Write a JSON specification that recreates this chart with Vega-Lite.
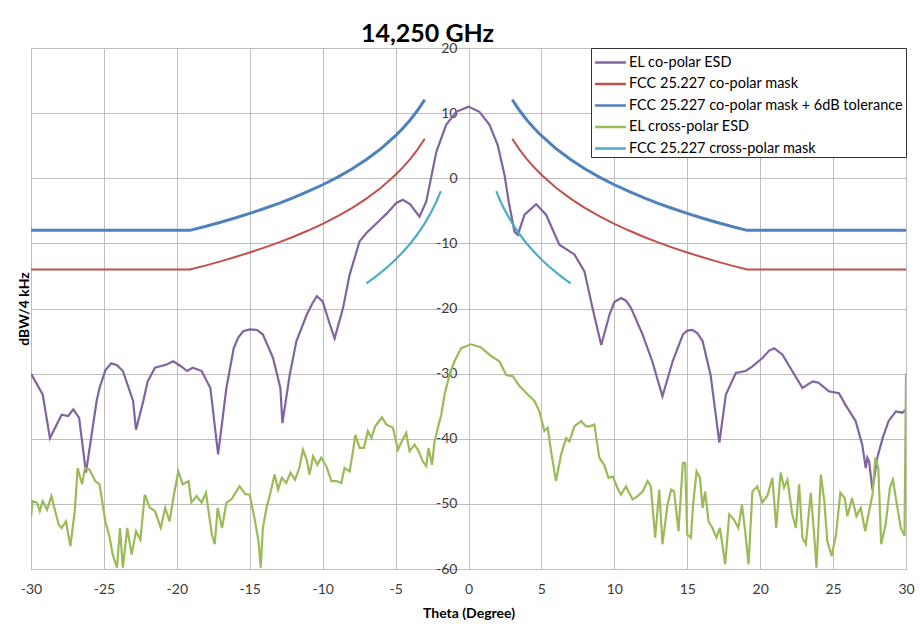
{
  "$schema": "https://vega.github.io/schema/vega-lite/v6.json",
  "width": 875,
  "height": 521,
  "autosize": {"type": "none"},
  "padding": {"left": 31, "top": 48, "right": 14, "bottom": 59},
  "background": "white",
  "title": {"text": "14,250 GHz", "font": "Lato", "fontSize": 25, "fontWeight": "bold", "color": "#000000", "anchor": "middle", "frame": "group", "dx": -41, "offset": -6},
  "datasets": {
    "copolar": [
      {"x": -30, "y": -30}, {"x": -29.2, "y": -33.2}, {"x": -28.7, "y": -39.9}, {"x": -27.9, "y": -36.3}, {"x": -27.45, "y": -36.5}, {"x": -27.1, "y": -35.5}, {"x": -26.7, "y": -36.8}, {"x": -26.23, "y": -45.2}, {"x": -25.5, "y": -34.2}, {"x": -25.3, "y": -32.2}, {"x": -24.9, "y": -29.5}, {"x": -24.5, "y": -28.4}, {"x": -24.1, "y": -28.7}, {"x": -23.7, "y": -29.6}, {"x": -23.0, "y": -34.2}, {"x": -22.8, "y": -38.6}, {"x": -22.3, "y": -34.2}, {"x": -22.0, "y": -31.2}, {"x": -21.5, "y": -29.1}, {"x": -20.7, "y": -28.6}, {"x": -20.25, "y": -28.1}, {"x": -19.7, "y": -28.9}, {"x": -19.3, "y": -29.6}, {"x": -18.9, "y": -29.1}, {"x": -18.3, "y": -29.6}, {"x": -17.7, "y": -32.2}, {"x": -17.17, "y": -42.4}, {"x": -16.6, "y": -32.2}, {"x": -16.1, "y": -26.1}, {"x": -15.8, "y": -24.5}, {"x": -15.45, "y": -23.5}, {"x": -15.0, "y": -23.2}, {"x": -14.5, "y": -23.3}, {"x": -14.1, "y": -24.0}, {"x": -13.4, "y": -27.6}, {"x": -12.9, "y": -32.2}, {"x": -12.76, "y": -37.6}, {"x": -12.26, "y": -30.2}, {"x": -11.8, "y": -25.0}, {"x": -11.1, "y": -21.0}, {"x": -10.7, "y": -19.2}, {"x": -10.4, "y": -18.1}, {"x": -10.0, "y": -18.9}, {"x": -9.5, "y": -22.5}, {"x": -9.18, "y": -24.6}, {"x": -8.6, "y": -19.9}, {"x": -8.15, "y": -14.8}, {"x": -7.47, "y": -9.7}, {"x": -7.0, "y": -8.4}, {"x": -6.3, "y": -6.9}, {"x": -5.6, "y": -5.4}, {"x": -4.95, "y": -3.8}, {"x": -4.5, "y": -3.3}, {"x": -4.0, "y": -4.0}, {"x": -3.36, "y": -5.9}, {"x": -2.9, "y": -3.6}, {"x": -2.2, "y": 4.1}, {"x": -1.53, "y": 8.2}, {"x": -0.84, "y": 10.2}, {"x": 0, "y": 11.0}, {"x": 0.75, "y": 10.2}, {"x": 1.44, "y": 8.2}, {"x": 2.0, "y": 5.1}, {"x": 2.47, "y": 0.5}, {"x": 2.76, "y": -3.6}, {"x": 3.15, "y": -8.2}, {"x": 3.38, "y": -8.7}, {"x": 3.84, "y": -5.6}, {"x": 4.64, "y": -4.0}, {"x": 5.32, "y": -5.6}, {"x": 6.23, "y": -10.2}, {"x": 7.26, "y": -11.7}, {"x": 7.95, "y": -14.3}, {"x": 8.5, "y": -19.9}, {"x": 9.1, "y": -25.6}, {"x": 9.66, "y": -21.0}, {"x": 10.0, "y": -19.0}, {"x": 10.46, "y": -18.4}, {"x": 10.8, "y": -18.8}, {"x": 11.14, "y": -19.9}, {"x": 11.94, "y": -24.0}, {"x": 12.6, "y": -28.1}, {"x": 13.3, "y": -33.5}, {"x": 14.0, "y": -28.1}, {"x": 14.7, "y": -24.0}, {"x": 15.0, "y": -23.4}, {"x": 15.36, "y": -23.3}, {"x": 15.7, "y": -23.8}, {"x": 16.05, "y": -25.0}, {"x": 16.6, "y": -30.2}, {"x": 17.2, "y": -40.6}, {"x": 17.65, "y": -33.2}, {"x": 18.33, "y": -29.9}, {"x": 19.0, "y": -29.6}, {"x": 19.47, "y": -28.9}, {"x": 20.16, "y": -27.6}, {"x": 20.6, "y": -26.5}, {"x": 20.96, "y": -26.1}, {"x": 21.53, "y": -27.1}, {"x": 22.2, "y": -29.6}, {"x": 22.9, "y": -32.2}, {"x": 23.6, "y": -31.2}, {"x": 24.0, "y": -31.4}, {"x": 24.7, "y": -32.7}, {"x": 25.4, "y": -33.0}, {"x": 25.85, "y": -34.8}, {"x": 26.55, "y": -37.3}, {"x": 27.0, "y": -40.9}, {"x": 27.24, "y": -44.5}, {"x": 27.35, "y": -42.9}, {"x": 27.47, "y": -43.5}, {"x": 27.7, "y": -47.8}, {"x": 28.03, "y": -42.9}, {"x": 28.4, "y": -39.9}, {"x": 28.8, "y": -37.3}, {"x": 29.3, "y": -35.8}, {"x": 29.75, "y": -36.0}, {"x": 30, "y": -35.5}
    ],
    "mask": [
      {"g": "L", "x": -30, "y": -14}, {"x": -19.1, "g": "L", "y": -14}, {"g": "L", "x": -18, "y": -13.38}, {"g": "L", "x": -17, "y": -12.76}, {"g": "L", "x": -16, "y": -12.1}, {"g": "L", "x": -15, "y": -11.4}, {"g": "L", "x": -14, "y": -10.65}, {"g": "L", "x": -13, "y": -9.85}, {"g": "L", "x": -12, "y": -8.98}, {"g": "L", "x": -11, "y": -8.03}, {"g": "L", "x": -10, "y": -7.0}, {"g": "L", "x": -9, "y": -5.86}, {"g": "L", "x": -8, "y": -4.58}, {"g": "L", "x": -7, "y": -3.13}, {"g": "L", "x": -6, "y": -1.45}, {"g": "L", "x": -5, "y": 0.53}, {"g": "L", "x": -4.5, "y": 1.67}, {"g": "L", "x": -4, "y": 2.95}, {"g": "L", "x": -3.5, "y": 4.4}, {"g": "L", "x": -3, "y": 6.07},
      {"g": "R", "x": 3, "y": 6.07}, {"g": "R", "x": 3.5, "y": 4.4}, {"g": "R", "x": 4, "y": 2.95}, {"g": "R", "x": 4.5, "y": 1.67}, {"g": "R", "x": 5, "y": 0.53}, {"g": "R", "x": 6, "y": -1.45}, {"g": "R", "x": 7, "y": -3.13}, {"g": "R", "x": 8, "y": -4.58}, {"g": "R", "x": 9, "y": -5.86}, {"g": "R", "x": 10, "y": -7.0}, {"g": "R", "x": 11, "y": -8.03}, {"g": "R", "x": 12, "y": -8.98}, {"g": "R", "x": 13, "y": -9.85}, {"g": "R", "x": 14, "y": -10.65}, {"g": "R", "x": 15, "y": -11.4}, {"g": "R", "x": 16, "y": -12.1}, {"g": "R", "x": 17, "y": -12.76}, {"g": "R", "x": 18, "y": -13.38}, {"g": "R", "x": 19.1, "y": -14}, {"g": "R", "x": 30, "y": -14}
    ],
    "tolerance": [
      {"g": "L", "x": -30, "y": -8}, {"g": "L", "x": -19.1, "y": -8}, {"g": "L", "x": -18, "y": -7.38}, {"g": "L", "x": -17, "y": -6.76}, {"g": "L", "x": -16, "y": -6.1}, {"g": "L", "x": -15, "y": -5.4}, {"g": "L", "x": -14, "y": -4.65}, {"g": "L", "x": -13, "y": -3.85}, {"g": "L", "x": -12, "y": -2.98}, {"g": "L", "x": -11, "y": -2.03}, {"g": "L", "x": -10, "y": -1.0}, {"g": "L", "x": -9, "y": 0.14}, {"g": "L", "x": -8, "y": 1.42}, {"g": "L", "x": -7, "y": 2.87}, {"g": "L", "x": -6, "y": 4.55}, {"g": "L", "x": -5, "y": 6.53}, {"g": "L", "x": -4.5, "y": 7.67}, {"g": "L", "x": -4, "y": 8.95}, {"g": "L", "x": -3.5, "y": 10.4}, {"g": "L", "x": -3, "y": 12.07},
      {"g": "R", "x": 3, "y": 12.07}, {"g": "R", "x": 3.5, "y": 10.4}, {"g": "R", "x": 4, "y": 8.95}, {"g": "R", "x": 4.5, "y": 7.67}, {"g": "R", "x": 5, "y": 6.53}, {"g": "R", "x": 6, "y": 4.55}, {"g": "R", "x": 7, "y": 2.87}, {"g": "R", "x": 8, "y": 1.42}, {"g": "R", "x": 9, "y": 0.14}, {"g": "R", "x": 10, "y": -1.0}, {"g": "R", "x": 11, "y": -2.03}, {"g": "R", "x": 12, "y": -2.98}, {"g": "R", "x": 13, "y": -3.85}, {"g": "R", "x": 14, "y": -4.65}, {"g": "R", "x": 15, "y": -5.4}, {"g": "R", "x": 16, "y": -6.1}, {"g": "R", "x": 17, "y": -6.76}, {"g": "R", "x": 18, "y": -7.38}, {"g": "R", "x": 19.1, "y": -8}, {"g": "R", "x": 30, "y": -8}
    ],
    "crosspolar": [
      {"x": -30, "y": -52.1}, {"x": -29.9, "y": -49.6}, {"x": -29.6, "y": -49.8}, {"x": -29.4, "y": -51.1}, {"x": -29.2, "y": -49.6}, {"x": -28.9, "y": -50.9}, {"x": -28.6, "y": -48.8}, {"x": -28.4, "y": -50.6}, {"x": -28.1, "y": -53.2}, {"x": -27.9, "y": -53.7}, {"x": -27.6, "y": -52.7}, {"x": -27.3, "y": -56.5}, {"x": -27.0, "y": -51.1}, {"x": -26.8, "y": -44.5}, {"x": -26.5, "y": -47.0}, {"x": -26.3, "y": -44.5}, {"x": -26.0, "y": -44.7}, {"x": -25.6, "y": -46.5}, {"x": -25.3, "y": -47.0}, {"x": -24.9, "y": -52.7}, {"x": -24.6, "y": -55.2}, {"x": -24.4, "y": -57.8}, {"x": -24.1, "y": -59.8}, {"x": -23.9, "y": -53.7}, {"x": -23.7, "y": -59.8}, {"x": -23.4, "y": -53.7}, {"x": -23.1, "y": -57.8}, {"x": -22.8, "y": -54.2}, {"x": -22.5, "y": -55.5}, {"x": -22.2, "y": -48.6}, {"x": -21.85, "y": -50.6}, {"x": -21.5, "y": -51.1}, {"x": -21.1, "y": -53.7}, {"x": -20.8, "y": -50.6}, {"x": -20.5, "y": -52.7}, {"x": -20.2, "y": -48.6}, {"x": -19.9, "y": -45.0}, {"x": -19.6, "y": -47.0}, {"x": -19.2, "y": -46.5}, {"x": -19.0, "y": -49.8}, {"x": -18.65, "y": -48.8}, {"x": -18.3, "y": -49.8}, {"x": -18.0, "y": -48.3}, {"x": -17.6, "y": -54.7}, {"x": -17.4, "y": -56.2}, {"x": -17.2, "y": -50.6}, {"x": -16.9, "y": -53.7}, {"x": -16.6, "y": -49.8}, {"x": -16.25, "y": -49.3}, {"x": -15.7, "y": -47.3}, {"x": -15.3, "y": -48.5}, {"x": -15.0, "y": -48.6}, {"x": -14.66, "y": -52.4}, {"x": -14.4, "y": -55.7}, {"x": -14.25, "y": -59.8}, {"x": -14.1, "y": -53.7}, {"x": -13.85, "y": -50.6}, {"x": -13.56, "y": -48.1}, {"x": -13.3, "y": -45.5}, {"x": -13.06, "y": -47.8}, {"x": -12.8, "y": -46.0}, {"x": -12.5, "y": -46.8}, {"x": -12.2, "y": -45.2}, {"x": -11.9, "y": -46.3}, {"x": -11.6, "y": -44.5}, {"x": -11.35, "y": -41.7}, {"x": -11.1, "y": -43.2}, {"x": -10.9, "y": -45.5}, {"x": -10.66, "y": -42.7}, {"x": -10.36, "y": -44.0}, {"x": -10.1, "y": -42.9}, {"x": -9.75, "y": -44.2}, {"x": -9.4, "y": -46.5}, {"x": -9.06, "y": -46.5}, {"x": -8.72, "y": -46.8}, {"x": -8.5, "y": -44.5}, {"x": -8.15, "y": -45.0}, {"x": -7.92, "y": -41.9}, {"x": -7.76, "y": -39.4}, {"x": -7.47, "y": -41.4}, {"x": -7.17, "y": -41.4}, {"x": -6.9, "y": -38.8}, {"x": -6.66, "y": -39.9}, {"x": -6.4, "y": -38.1}, {"x": -5.94, "y": -36.7}, {"x": -5.64, "y": -37.8}, {"x": -5.18, "y": -38.3}, {"x": -4.84, "y": -41.7}, {"x": -4.57, "y": -40.4}, {"x": -4.27, "y": -39.1}, {"x": -4.04, "y": -41.9}, {"x": -3.7, "y": -40.9}, {"x": -3.42, "y": -41.9}, {"x": -3.13, "y": -43.5}, {"x": -2.9, "y": -44.2}, {"x": -2.74, "y": -41.4}, {"x": -2.5, "y": -44.0}, {"x": -2.33, "y": -40.4}, {"x": -2.1, "y": -38.3}, {"x": -1.87, "y": -36.3}, {"x": -1.64, "y": -33.2}, {"x": -1.3, "y": -30.2}, {"x": -0.96, "y": -28.1}, {"x": -0.5, "y": -26.1}, {"x": 0.18, "y": -25.5}, {"x": 0.87, "y": -26.0}, {"x": 1.55, "y": -27.3}, {"x": 2.12, "y": -28.1}, {"x": 2.58, "y": -30.2}, {"x": 3.03, "y": -30.4}, {"x": 3.5, "y": -31.9}, {"x": 4.06, "y": -33.2}, {"x": 4.52, "y": -34.2}, {"x": 4.86, "y": -35.8}, {"x": 5.2, "y": -38.8}, {"x": 5.43, "y": -38.3}, {"x": 5.66, "y": -41.9}, {"x": 6.0, "y": -46.5}, {"x": 6.35, "y": -42.4}, {"x": 6.7, "y": -39.9}, {"x": 6.92, "y": -40.4}, {"x": 7.26, "y": -38.1}, {"x": 7.72, "y": -37.3}, {"x": 8.06, "y": -38.1}, {"x": 8.3, "y": -38.1}, {"x": 8.63, "y": -37.8}, {"x": 8.97, "y": -42.9}, {"x": 9.3, "y": -44.0}, {"x": 9.6, "y": -46.0}, {"x": 9.9, "y": -45.8}, {"x": 10.2, "y": -47.5}, {"x": 10.46, "y": -48.6}, {"x": 10.8, "y": -47.3}, {"x": 10.9, "y": -47.8}, {"x": 11.25, "y": -49.3}, {"x": 11.6, "y": -48.8}, {"x": 11.94, "y": -48.1}, {"x": 12.28, "y": -46.5}, {"x": 12.5, "y": -47.3}, {"x": 12.8, "y": -55.2}, {"x": 13.08, "y": -47.8}, {"x": 13.3, "y": -56.2}, {"x": 13.65, "y": -50.1}, {"x": 13.9, "y": -47.8}, {"x": 14.1, "y": -48.1}, {"x": 14.4, "y": -54.2}, {"x": 14.7, "y": -43.7}, {"x": 14.86, "y": -43.7}, {"x": 15.0, "y": -54.7}, {"x": 15.25, "y": -55.2}, {"x": 15.4, "y": -50.1}, {"x": 15.64, "y": -45.0}, {"x": 15.87, "y": -46.0}, {"x": 16.05, "y": -50.6}, {"x": 16.23, "y": -48.1}, {"x": 16.46, "y": -52.7}, {"x": 16.73, "y": -53.7}, {"x": 17.0, "y": -55.2}, {"x": 17.24, "y": -53.7}, {"x": 17.6, "y": -59.3}, {"x": 17.88, "y": -51.6}, {"x": 18.2, "y": -52.4}, {"x": 18.5, "y": -53.7}, {"x": 18.75, "y": -50.1}, {"x": 18.97, "y": -54.2}, {"x": 19.2, "y": -59.3}, {"x": 19.47, "y": -48.1}, {"x": 19.8, "y": -47.3}, {"x": 20.16, "y": -49.8}, {"x": 20.5, "y": -48.7}, {"x": 20.84, "y": -46.0}, {"x": 21.1, "y": -53.7}, {"x": 21.4, "y": -45.2}, {"x": 21.64, "y": -47.5}, {"x": 21.87, "y": -46.3}, {"x": 22.2, "y": -51.6}, {"x": 22.45, "y": -53.7}, {"x": 22.67, "y": -47.0}, {"x": 22.9, "y": -55.2}, {"x": 23.13, "y": -56.2}, {"x": 23.47, "y": -48.3}, {"x": 23.7, "y": -54.7}, {"x": 23.86, "y": -59.8}, {"x": 24.16, "y": -45.5}, {"x": 24.4, "y": -49.6}, {"x": 24.6, "y": -55.7}, {"x": 24.9, "y": -58.0}, {"x": 25.2, "y": -54.7}, {"x": 25.5, "y": -48.3}, {"x": 25.8, "y": -49.1}, {"x": 25.98, "y": -51.9}, {"x": 26.3, "y": -49.1}, {"x": 26.6, "y": -51.9}, {"x": 26.9, "y": -50.6}, {"x": 27.2, "y": -54.2}, {"x": 27.47, "y": -51.1}, {"x": 27.7, "y": -48.6}, {"x": 27.9, "y": -42.9}, {"x": 28.1, "y": -44.5}, {"x": 28.3, "y": -56.2}, {"x": 28.6, "y": -53.2}, {"x": 28.9, "y": -47.5}, {"x": 29.1, "y": -46.3}, {"x": 29.34, "y": -49.6}, {"x": 29.64, "y": -53.7}, {"x": 29.9, "y": -54.9}, {"x": 30, "y": -30}
    ],
    "xmask": [
      {"g": "L", "x": -7, "y": -16.13}, {"g": "L", "x": -6.5, "y": -15.32}, {"g": "L", "x": -6, "y": -14.45}, {"g": "L", "x": -5.5, "y": -13.51}, {"g": "L", "x": -5, "y": -12.47}, {"g": "L", "x": -4.5, "y": -11.33}, {"g": "L", "x": -4, "y": -10.05}, {"g": "L", "x": -3.5, "y": -8.6}, {"g": "L", "x": -3, "y": -6.93}, {"g": "L", "x": -2.5, "y": -4.95}, {"g": "L", "x": -2.2, "y": -3.56}, {"g": "L", "x": -1.9, "y": -1.97},
      {"g": "R", "x": 1.9, "y": -1.97}, {"g": "R", "x": 2.2, "y": -3.56}, {"g": "R", "x": 2.5, "y": -4.95}, {"g": "R", "x": 3, "y": -6.93}, {"g": "R", "x": 3.5, "y": -8.6}, {"g": "R", "x": 4, "y": -10.05}, {"g": "R", "x": 4.5, "y": -11.33}, {"g": "R", "x": 5, "y": -12.47}, {"g": "R", "x": 5.5, "y": -13.51}, {"g": "R", "x": 6, "y": -14.45}, {"g": "R", "x": 6.5, "y": -15.32}, {"g": "R", "x": 7, "y": -16.13}
    ]
  },
  "encoding": {
    "x": {"field": "x", "type": "quantitative", "scale": {"domain": [-30, 30], "nice": false, "zero": false},
      "axis": {"title": "Theta (Degree)", "values": [-30, -25, -20, -15, -10, -5, 0, 5, 10, 15, 20, 25, 30], "labelExpr": "datum.value + ''", "labelFlush": false, "labelPadding": 13, "titlePadding": 10}},
    "y": {"field": "y", "type": "quantitative", "scale": {"domain": [-60, 20], "nice": false, "zero": false},
      "axis": {"title": "dBW/4 kHz", "values": [-60, -50, -40, -30, -20, -10, 0, 10, 20], "labelExpr": "datum.value + ''", "offset": -438, "labelPadding": 12, "titleX": -438, "labelFlush": false}}
  },
  "layer": [
    {"data": {"name": "copolar"}, "mark": {"type": "line", "strokeWidth": 2.2, "clip": true},
      "encoding": {"color": {"datum": "EL co-polar ESD", "type": "nominal",
        "scale": {"domain": ["EL co-polar ESD", "FCC 25.227 co-polar mask", "FCC 25.227 co-polar mask + 6dB tolerance", "EL cross-polar ESD", "FCC 25.227 cross-polar mask"],
                  "range": ["#8064A2", "#C0504D", "#4F81BD", "#9BBB59", "#4BACC6"]},
        "legend": {"title": null}}}},
    {"data": {"name": "mask"}, "mark": {"type": "line", "strokeWidth": 2, "clip": true},
      "encoding": {"color": {"datum": "FCC 25.227 co-polar mask", "type": "nominal"}, "detail": {"field": "g"}}},
    {"data": {"name": "tolerance"}, "mark": {"type": "line", "strokeWidth": 3, "clip": true},
      "encoding": {"color": {"datum": "FCC 25.227 co-polar mask + 6dB tolerance", "type": "nominal"}, "detail": {"field": "g"}}},
    {"data": {"name": "crosspolar"}, "mark": {"type": "line", "strokeWidth": 2.2, "clip": true},
      "encoding": {"color": {"datum": "EL cross-polar ESD", "type": "nominal"}}},
    {"data": {"name": "xmask"}, "mark": {"type": "line", "strokeWidth": 2.2, "clip": true},
      "encoding": {"color": {"datum": "FCC 25.227 cross-polar mask", "type": "nominal"}, "detail": {"field": "g"}}}
  ],
  "config": {
    "font": "Lato",
    "view": {"stroke": "#BEBEBE", "strokeWidth": 1},
    "axis": {"grid": true, "gridColor": "#BEBEBE", "gridWidth": 1, "gridOpacity": 1, "domain": false, "ticks": false,
      "labelFont": "Lato", "labelFontSize": 14, "labelColor": "#3A3A3A", "labelOverlap": false,
      "titleFont": "Lato", "titleFontSize": 14, "titleFontWeight": "bold", "titleColor": "#000000"},
    "legend": {"orient": "top-right", "offset": 0, "fillColor": "white", "strokeColor": "#333333", "padding": 2,
      "symbolType": "M-1.4,0H1.4", "symbolSize": 484, "symbolStrokeWidth": 2.5, "symbolOffset": 5, "labelFont": "Lato", "labelFontSize": 14.5,
      "labelColor": "#000000", "labelLimit": 400, "rowPadding": 2.5, "labelOffset": 6}
  }
}
